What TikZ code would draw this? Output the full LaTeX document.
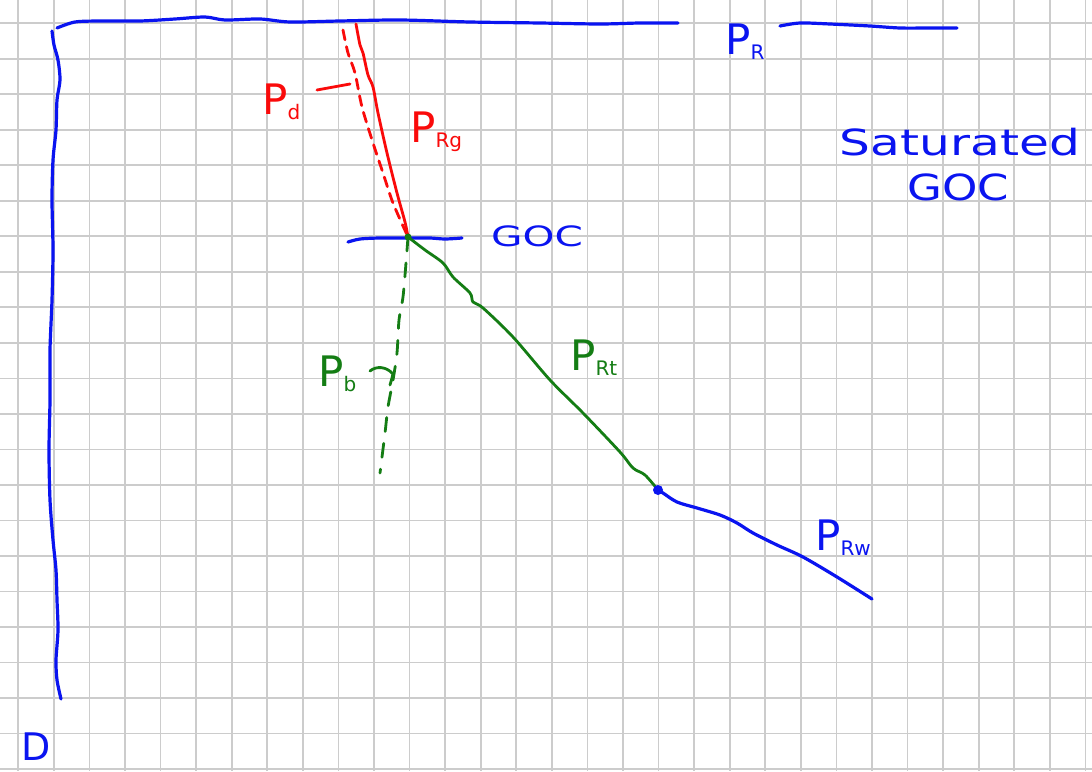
\documentclass[tikz,border=0pt]{standalone}
\usepackage{fontspec}
\setmainfont{DejaVu Sans}
\definecolor{pblue}{RGB}{10,20,240}
\definecolor{pred}{RGB}{250,10,10}
\definecolor{pgreen}{RGB}{20,125,20}
\definecolor{gridc}{RGB}{204,204,204}
\newcommand{\sbs}[1]{\raisebox{-5pt}{\fontsize{20}{20}\selectfont #1}}
\tikzset{
  gridline/.style={gridc, line width=1.8pt},
  ink/.style={line width=3.2pt, line cap=round, line join=round},
  thinink/.style={line width=2.8pt, line cap=round, line join=round},
  lbl/.style={inner sep=0pt, font=\fontsize{42}{42}\selectfont},
  word/.style={inner sep=0pt, font=\fontsize{36}{36}\selectfont},
}
\begin{document}
\begin{tikzpicture}[x=1pt,y=-1pt]
\useasboundingbox (0,0) rectangle (1092,771);
\fill[white] (0,0) rectangle (1092,771);
% grid
\foreach \k in {0,...,30} { \draw[gridline] ({18.3+35.57*\k},0) -- ({18.3+35.57*\k},771); }
\foreach \k in {0,...,21} { \draw[gridline] (0,{23.3+35.51*\k}) -- (1092,{23.3+35.51*\k}); }

% key points
\coordinate (goc) at (408,237);
\coordinate (owc) at (658,490);

% axes
\draw[ink, pblue] plot[smooth, tension=0.5] coordinates {(57,28) (75,22) (100,21) (140,21) (175,19) (205,17) (225,20) (260,19) (290,22) (340,21) (400,20) (470,22) (540,23) (600,24) (640,23) (678,23)};
\draw[ink, pblue] plot[smooth, tension=0.5] coordinates {(780,26) (800,23) (830,24) (870,26) (900,28) (930,28) (957,28)};
\draw[ink, pblue] plot[smooth, tension=0.5] coordinates {(52,31) (54,45) (58,60) (60,80) (57,100) (56,130) (53,160) (52,200) (53,250) (52,300) (50,350) (50,400) (49,450) (50,500) (53,540) (56,570) (57,600) (58,630) (56,660) (57,680) (61,699)};

% GOC line
\draw[ink, pblue] plot[smooth, tension=0.5] coordinates {(348,242) (360,239) (380,238) (410,238) (430,238) (445,239) (462,238)};

% red gas gradient and dew point
\draw[thinink, pred] plot[smooth, tension=0.5] coordinates {(356,24) (360,45) (363,53) (368,75) (373,87) (378,113) (387,153) (397,193) (405,222) (goc)};
\draw[thinink, pred, dash pattern=on 10pt off 7pt] plot[smooth, tension=0.5] coordinates {(343,30) (348,53) (355,73) (362,107) (373,143) (383,173) (393,203) (goc)};

% green bubble point and oil gradient
\draw[thinink, pgreen, dash pattern=on 14pt off 12pt] plot[smooth, tension=0.5] coordinates {(goc) (406,263) (403,297) (399,320) (397,353) (393,380) (388,407) (385,433) (380,473)};
\draw[thinink, pgreen] plot[smooth, tension=0.5] coordinates {(goc) (425,250) (443,263) (453,277) (470,293) (473,302) (483,308) (513,337) (550,380) (583,413) (620,452) (633,468) (645,475) (owc)};
\fill[pgreen] (goc) circle (3.5pt);

% water gradient
\draw[ink, pblue] plot[smooth, tension=0.5] coordinates {(owc) (663,493) (677,502) (697,508) (720,515) (737,523) (753,533) (777,545) (803,557) (837,577) (872,599)};
\fill[pblue] (owc) circle (5pt);

% leaders
\draw[thinink, pred] (317,90) -- (350,84);
\draw[thinink, pgreen] (370,371) .. controls (376,366) and (386,366) .. (393,374) .. controls (392,378) .. (390,385);

% labels
\node[lbl, pblue, anchor=base west] (pR) at (725,54) {P\sbs{R}};
\node[lbl, pred, anchor=base west] (pd) at (262,114) {P\sbs{d}};
\node[lbl, pred, anchor=base west] (pRg) at (410,142) {P\sbs{Rg}};
\node[lbl, pgreen, anchor=base west] (pb) at (318,386) {P\sbs{b}};
\node[lbl, pgreen, anchor=base west] (pRt) at (570,370) {P\sbs{Rt}};
\node[lbl, pblue, anchor=base west] (pRw) at (815,550) {P\sbs{Rw}};
\node[inner sep=0pt, pblue, font=\fontsize{28}{28}\selectfont, xscale=1.45] (goclbl) at (537,236) {GOC};
\node[word, pblue, anchor=base, xscale=1.35] (sat) at (960,155) {Saturated};
\node[word, pblue, anchor=base, xscale=1.25] (sgoc) at (958,200) {GOC};
\node[inner sep=0pt, pblue, anchor=base, font=\fontsize{38}{38}\selectfont] (D) at (36,760) {D};
\end{tikzpicture}
\end{document}
